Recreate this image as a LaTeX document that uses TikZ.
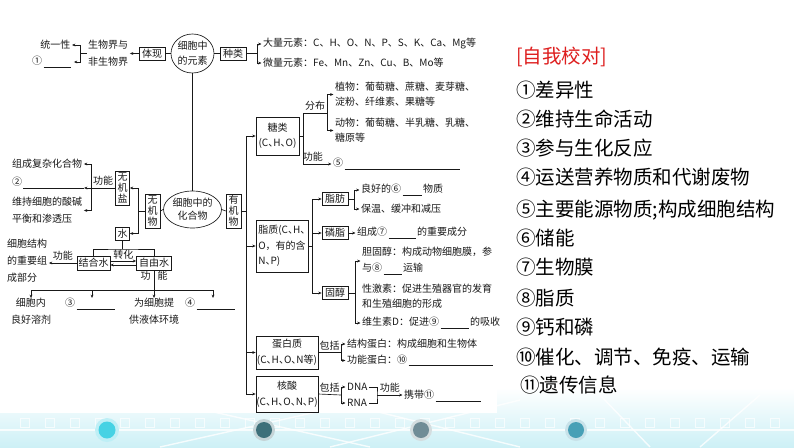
\documentclass[tikz,border=0pt]{standalone}
\usepackage{fontspec}
\setmainfont{Noto Sans CJK SC}
\usetikzlibrary{arrows.meta,shapes.geometric,calc}
\newcommand\dgf{\fontsize{10}{15}\selectfont}
\newcommand\ansf{\fontsize{19.5}{24}\selectfont}
\newcommand\dn{\makebox[0.5em][l]{、}}
\newcommand\blank[1]{\hspace{1.5pt}\rule[-2.5pt]{#1}{0.5pt}\hspace{1.5pt}}
\definecolor{lnc}{RGB}{25,25,25}
\definecolor{titred}{RGB}{222,30,30}
\definecolor{bgc}{RGB}{205,240,246}
\definecolor{cA}{RGB}{70,210,228}
\definecolor{cB}{RGB}{62,112,122}
\definecolor{cC}{RGB}{112,140,150}
\definecolor{cD}{RGB}{72,160,182}
\tikzset{
  ln/.style={draw=lnc, line width=0.65pt},
  ar/.style={ln, -{Stealth[length=3.4pt,width=2.8pt]}},
  bx/.style={draw=lnc, line width=0.65pt, rectangle, inner sep=0pt, font=\dgf, align=center, text=lnc},
  vbx/.style={bx, font=\fontsize{10}{11}\selectfont},
  el/.style={draw=lnc, line width=0.65pt, ellipse, inner sep=0pt, font=\dgf, align=center, text=lnc},
  tx/.style={inner xsep=1.5pt, inner ysep=0pt, font=\dgf, align=left, text=lnc},
  lb/.style={inner sep=0pt, font=\dgf, text=lnc},
  ans/.style={inner sep=0pt, anchor=west, font=\ansf, text=black},
  deco/.style={draw=white, line width=1.4pt, opacity=0.8},
}
\begin{document}
\begin{tikzpicture}[x=1pt,y=-1pt]
\useasboundingbox (0,0) rectangle (794,447);
% ---------- background ----------
\fill[white] (0,0) rectangle (794,447);
\fill[top color=white, bottom color=bgc] (0,388) rectangle (794,447);
\foreach \xx in {20,45,...,780} {\draw[draw=white, line width=0.8pt, opacity=0.7] (\xx,418) rectangle ++(9,9);}
\draw[deco] (160,400) -- (370,447); \draw[deco] (160,447) -- (370,400);
\draw[deco] (330,400) -- (520,447); \draw[deco] (330,447) -- (520,400);
\draw[deco] (0,430) -- (794,430);
\draw[deco] (600,395) -- (650,447); \draw[deco] (700,447) -- (760,395);
\fill[cA!35] (107,430) circle (12); \fill[cA] (107,430) circle (8.5);
\fill[cB!30] (264,430) circle (11); \fill[cB] (264,430) circle (8);
\fill[cC!30] (421,430) circle (11); \fill[cC] (421,430) circle (8);
\fill[cD!30] (576,430) circle (11); \fill[cD] (576,430) circle (8);
\fill[white] (0,0) rectangle (497,413);
% ---------- top: elements ----------
\node[tx, anchor=east] (t1) at (72,45) {统一性};
\node[tx, anchor=west] (t2) at (30.5,62) {①\blank{27pt}};
\node[tx, anchor=west, font=\fontsize{10}{17}\selectfont] (swj) at (86.5,53.5) {生物界与\\非生物界};
\node[bx, minimum width=26pt, minimum height=13pt] (tixian) at (152,53.5) {体现};
\node[el, minimum width=43pt, minimum height=39pt] (ysu) at (192.5,53.5) {细胞中\\的元素};
\node[bx, minimum width=26pt, minimum height=13pt] (zhl) at (233,53.5) {种类};
\node[tx, anchor=west] (dl) at (261.5,44) {大量元素：C、H、O、N、P、S、K、Ca、Mg等};
\node[tx, anchor=west] (wl) at (261.5,63) {微量元素：Fe、Mn、Zn、Cu、B、Mo等};
\coordinate (b1) at (80,53.5);
\draw[ln] (swj.west) -- (b1);
\draw[ar] (b1) |- (t1.east);
\draw[ar] (b1) |- (t2.east);
\draw[ar] (tixian.west) -- (swj.east);
\draw[ln] (tixian.east) -- (ysu.west);
\draw[ln] (ysu.east) -- (zhl.west);
\coordinate (b2) at (257,53.5);
\draw[ln] (zhl.east) -- (b2);
\draw[ar] (b2) |- (dl.west);
\draw[ar] (b2) |- (wl.west);
% ---------- compounds ----------
\node[el, minimum width=58pt, minimum height=37pt, font=\fontsize{10}{13}\selectfont] (hhw) at (192.5,209.5) {细胞中的\\化合物};
\draw[ln] (ysu.south) -- (hhw.north);
\node[vbx, minimum width=15pt, minimum height=34pt] (wjw) at (152.5,211) {无\\机\\物};
\node[vbx, minimum width=15pt, minimum height=34pt] (yjw) at (233.5,211) {有\\机\\物};
\draw[ln] (wjw.east) -- (hhw.west);
\draw[ln] (hhw.east) -- (yjw.west);
\node[vbx, minimum width=14pt, minimum height=34pt] (wjy) at (122.5,188) {无\\机\\盐};
\node[vbx, minimum width=14pt, minimum height=13pt] (shui) at (122.5,233.5) {水};
\coordinate (w1) at (138,211);
\draw[ln] (wjw.west) -- (w1);
\draw[ar] (w1) |- (wjy.east);
\draw[ar] (w1) |- (shui.east);
% inorganic salt functions
\node[tx, anchor=west] (zcf) at (10.5,164) {组成复杂化合物};
\node[tx, anchor=west] (q2) at (10.5,182) {②};
\node[tx, anchor=west, font=\fontsize{10}{17}\selectfont] (wcx) at (10.5,210.5) {维持细胞的酸碱\\平衡和渗透压};
\coordinate (b3) at (91,188);
\coordinate (u2) at (84,188);
\coordinate (u2s) at (23,188);
\draw[ln] (wjy.west) -- node[lb, above=2pt] (gn1) {功能} (b3);
\draw[ar] (b3) |- (zcf.east);
\draw[ar] (b3) -- (u2);
\draw[ln] (u2) -- (u2s);
\draw[ar] (b3) |- (wcx.east);
% water
\node[bx, minimum width=33pt, minimum height=14pt] (jhs) at (93.5,263) {结合水};
\node[bx, minimum width=35pt, minimum height=14pt] (zys) at (154,263) {自由水};
\coordinate (s1) at (122.5,249);
\draw[ln] (shui.south) -- (s1);
\draw[ln] (jhs.north) |- (s1) -| (zys.north);
\draw[ar] ([yshift=2pt]jhs.east) -- node[lb, above=1.5pt] (zh) {转化} ([yshift=2pt]zys.west);
\draw[ar] ([yshift=-2pt]zys.west) -- ([yshift=-2pt]jhs.east);
\node[tx, anchor=west, font=\fontsize{10}{17}\selectfont] (xbj) at (5.5,261) {细胞结构\\的重要组\\成部分};
\draw[ar] (jhs.west) -- node[lb, above=2pt] (gn2) {功能} (jhs.west -| xbj.east);
\coordinate (z1) at (154,290);
\node[lb] (gn3) at (154,276) {功\hspace{7pt}能};
\draw[ln] (zys.south) -- (z1);
\coordinate (h1) at (31,290);
\coordinate (h2) at (92,290);
\coordinate (h4) at (213,290);
\draw[ln] (h1) -- (h4);
\node[tx, align=center, anchor=north, font=\fontsize{10}{17}\selectfont] (f1) at (31,298) {细胞内\\良好溶剂};
\node[tx, anchor=north west] (f2) at (63.5,298) {③\blank{38pt}};
\node[tx, align=center, anchor=north, font=\fontsize{10}{17}\selectfont] (f3) at (154,298) {为细胞提\\供液体环境};
\node[tx, anchor=north west] (f4) at (183.5,298) {④\blank{38pt}};
\draw[ar] (h1) -- (f1.north);
\draw[ar] (h2) -- (h2 |- f2.north);
\draw[ar] (z1) -- (f3.north);
\draw[ar] (h4) -- (h4 |- f4.north);
% ---------- organic ----------
\coordinate (sp) at (246,211);
\draw[ln] (yjw.east) -- (sp);
\node[bx, minimum width=43pt, minimum height=38pt] (tl) at (277.5,136) {糖类\\(C\dn H\dn O)};
\node[bx, minimum width=52pt, minimum height=52pt, align=left, font=\fontsize{10}{15.5}\selectfont] (zz) at (282,246) {脂质(C\dn H\dn\\O，有的含\\N\dn P)};
\node[bx, minimum width=62pt, minimum height=33pt, font=\fontsize{10}{16}\selectfont] (dbz) at (287,352.5) {蛋白质\\(C\dn H\dn O\dn N等)};
\node[bx, minimum width=62pt, minimum height=36pt, font=\fontsize{10}{16}\selectfont] (hs) at (287,394) {核酸\\(C\dn H\dn O\dn N\dn P)};
\draw[ar] (sp) |- (tl.west);
\draw[ar] (sp) |- (zz.west);
\draw[ar] (sp) |- (dbz.west);
\draw[ar] (sp) |- (hs.west);
% sugars
\coordinate (t0) at (303,136);
\coordinate (tfb) at (303,113);
\coordinate (b4) at (327,113);
\coordinate (tgn) at (303,164);
\draw[ln] (tl.east) -- (t0);
\draw[ln] (tgn) -- (tfb) -- node[lb, above=2.5pt] (fb) {分布} (b4);
\node[tx, anchor=west] (zw) at (333.5,94.5) {植物：葡萄糖、蔗糖、麦芽糖、\\淀粉、纤维素、果糖等};
\node[tx, anchor=west] (dw) at (333.5,130.5) {动物：葡萄糖、半乳糖、乳糖、\\糖原等};
\draw[ar] (b4) |- (zw.west);
\draw[ar] (b4) |- (dw.west);
\node[tx, anchor=west] (q5) at (331.5,164) {⑤\blank{115pt}};
\draw[ar] (tgn) -- node[lb, above=2.5pt, pos=0.35] (gn4) {功能} (q5.west);
% lipids
\coordinate (z0) at (312,246);
\draw[ln] (zz.east) -- (z0);
\node[bx, minimum width=26pt, minimum height=13pt] (zf) at (335,199) {脂肪};
\node[bx, minimum width=26pt, minimum height=13pt] (lz) at (335,233) {磷脂};
\node[bx, minimum width=26pt, minimum height=13pt] (gc) at (335,293) {固醇};
\draw[ar] (z0) |- (zf.west);
\draw[ar] (z0) |- (lz.west);
\draw[ar] (z0) |- (gc.west);
\coordinate (b5) at (354,199);
\draw[ln] (zf.east) -- (b5);
\node[tx, anchor=west] (lhd) at (359.5,190) {良好的⑥\blank{19pt}物质};
\node[tx, anchor=west] (bw) at (359.5,209) {保温、缓冲和减压};
\draw[ar] (b5) |- (lhd.west);
\draw[ar] (b5) |- (bw.west);
\node[tx, anchor=west] (zc7) at (355.5,233) {组成⑦\blank{27pt}的重要成分};
\draw[ar] (lz.east) -- (zc7.west);
\coordinate (b6) at (355,293);
\draw[ln] (gc.east) -- (b6);
\node[tx, anchor=west, font=\fontsize{10}{16}\selectfont] (dgc) at (360.5,261) {胆固醇：构成动物细胞膜，参\\与⑧\blank{18pt}运输};
\node[tx, anchor=west] (xjs) at (360.5,296.5) {性激素：促进生殖器官的发育\\和生殖细胞的形成};
\node[tx, anchor=west] (wsd) at (360.5,323) {维生素D：促进⑨\blank{28pt}的吸收};
\draw[ar] (b6) |- (dgc.west);
\draw[ar] (b6) |- (wsd.west);
% proteins
\coordinate (b7) at (341,352.5);
\draw[ln] (dbz.east) -- node[lb, above=2pt] (bk1) {包括} (b7);
\node[tx, anchor=west] (jgdb) at (345.5,344) {结构蛋白：构成细胞和生物体};
\node[tx, anchor=west] (gndb) at (345.5,360.5) {功能蛋白：⑩\blank{84pt}};
\draw[ar] (b7) |- (jgdb.west);
\draw[ar] (b7) |- (gndb.west);
% nucleic acids
\coordinate (b8) at (341,395);
\draw[ln] (hs.east) -- node[lb, above=2pt] (bk2) {包括} (b8);
\node[tx, anchor=west] (dna) at (345.5,387) {DNA};
\node[tx, anchor=west] (rna) at (345.5,403) {RNA};
\draw[ar] (b8) |- (dna.west);
\draw[ar] (b8) |- (rna.west);
\coordinate (b9) at (377,395);
\draw[ln] (dna.east) -| (b9) |- (rna.east);
\node[tx, anchor=west] (xd) at (402.5,396) {携带⑪\blank{45pt}};
\draw[ar] (b9) -- node[lb, above=2pt] (gn5) {功能} (b9 -| xd.west);
% ---------- answers ----------
\node[ans, text=titred] (ttl) at (516,57) {[自我校对]};
\node[ans] (a1) at (516,90) {①差异性};
\node[ans] (a2) at (516,119) {②维持生命活动};
\node[ans] (a3) at (516,148) {③参与生化反应};
\node[ans] (a4) at (516,177) {④运送营养物质和代谢废物};
\node[ans] (a5) at (516,210) {⑤主要能源物质;构成细胞结构};
\node[ans] (a6) at (516,238) {⑥储能};
\node[ans] (a7) at (516,267) {⑦生物膜};
\node[ans] (a8) at (516,298) {⑧脂质};
\node[ans] (a9) at (516,327) {⑨钙和磷};
\node[ans] (a10) at (516,357) {⑩催化、调节、免疫、运输};
\node[ans] (a11) at (520,385) {⑪遗传信息};
\end{tikzpicture}
\end{document}
